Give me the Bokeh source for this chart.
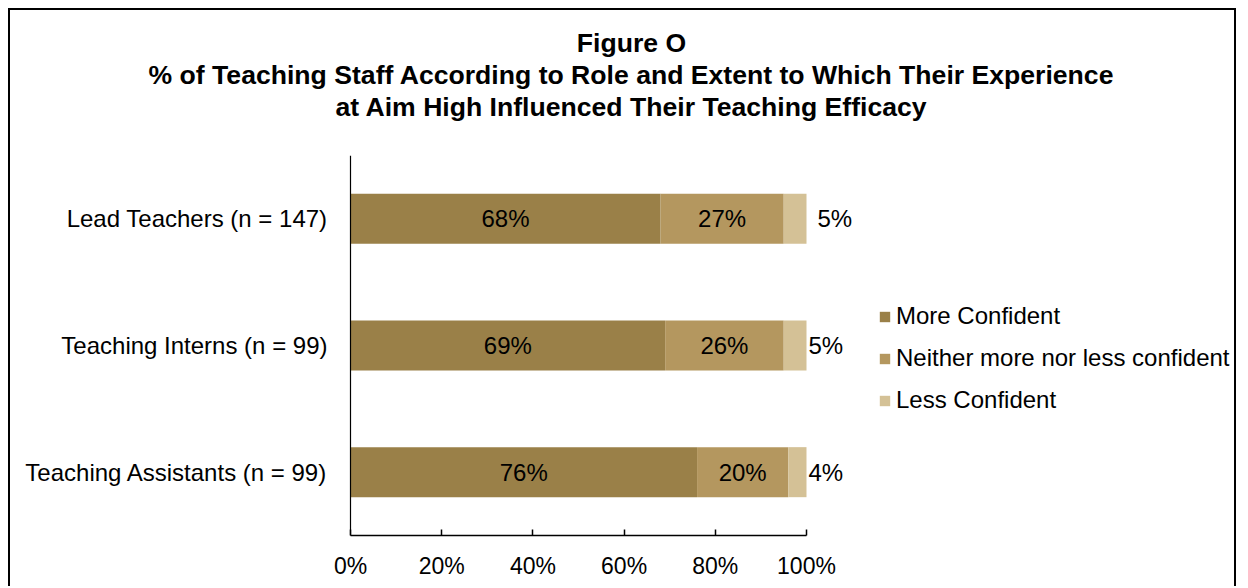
from bokeh.plotting import figure
from bokeh.models import FactorRange, Range1d, Title, Legend, LegendItem, FixedTicker, ColumnDataSource, Span
from bokeh.embed import file_html
from bokeh.resources import INLINE
from bokeh.core.properties import value

# ---------------- data ----------------
categories = ["Lead Teachers (n = 147)", "Teaching Interns (n = 99)", "Teaching Assistants (n = 99)"]
series = ["More Confident", "Neither more nor less confident", "Less Confident"]
more_confident = [68, 69, 76]
neither = [27, 26, 20]
less_confident = [5, 5, 4]
x_ticks = [0, 20, 40, 60, 80, 100]
x_tick_labels = ["0%", "20%", "40%", "60%", "80%", "100%"]
title_lines = [
    "Figure O",
    "% of Teaching Staff According to Role and Extent to Which Their Experience",
    "at Aim High Influenced Their Teaching Efficacy",
]

# ---------------- styles ----------------
colors = ["#9A8048", "#B4975F", "#D4C196"]
FONT = "Liberation Sans"
FS = "24px"
FS_TICK = "23px"
FS_TITLE = "26.6px"
W, H = 1228, 578                      # canvas (inside a 2px border, 8px page margin)
OX = 10                               # canvas origin on the page
FRAME_LEFT, FRAME_RIGHT = 14, 1228    # canvas px (frame centred on the title)
FRAME_TOP, FRAME_BOTTOM = 145, 525
AXIS_X_PAGE = 350                     # page x of the 0% position
PX_PER_PCT = 4.56
outside_offsets = [11, 2, 2]          # px offset of the outside labels per row
TITLE_GAP = 31                        # px between the last title line and the plot area

x_start = -((AXIS_X_PAGE - OX) - FRAME_LEFT) / PX_PER_PCT
x_end = (FRAME_RIGHT - (AXIS_X_PAGE - OX)) / PX_PER_PCT

p = figure(
    width=W, height=H,
    y_range=FactorRange(factors=list(reversed(categories))),
    x_range=Range1d(x_start, x_end),
    output_backend="svg", toolbar_location=None,
    min_border_left=FRAME_LEFT, min_border_right=W - FRAME_RIGHT,
    min_border_top=FRAME_TOP, min_border_bottom=H - FRAME_BOTTOM,
)
p.styles = {
    "margin-left": "8px", "margin-top": "8px",
    "border-left": "2px solid black", "border-top": "2px solid black",
    "border-right": "2px solid black",
}
p.grid.visible = False
p.outline_line_color = None
p.background_fill_color = "white"
p.border_fill_color = "white"
p.yaxis.visible = False

src = ColumnDataSource(dict(
    cat=categories,
    more=more_confident,
    neither=neither,
    less=less_confident,
))
keys = ["more", "neither", "less"]
renderers = p.hbar_stack(keys, y="cat", height=0.395, color=colors, source=src, line_color=None)

# value axis line (vertical, at 0%)
p.add_layout(Span(location=0, dimension="height", line_color="black", line_width=1.2))

# category labels
p.text(x=[0] * len(categories), y=categories, text=categories, x_offset=-23,
       text_align="right", text_baseline="middle",
       text_font=value(FONT), text_font_size=FS, text_color="black")

# in-bar labels
lbl_x, lbl_y, lbl_t = [], [], []
for i, c in enumerate(categories):
    lbl_x += [more_confident[i] / 2, more_confident[i] + neither[i] / 2]
    lbl_y += [c, c]
    lbl_t += [f"{more_confident[i]}%", f"{neither[i]}%"]
p.text(x=lbl_x, y=lbl_y, text=lbl_t, text_align="center", text_baseline="middle",
       text_font=value(FONT), text_font_size=FS, text_color="black")

# outside labels (Less Confident)
out_x = [more_confident[i] + neither[i] + less_confident[i] for i in range(3)]
p.text(x=out_x, y=categories, text=[f"{v}%" for v in less_confident],
       x_offset=outside_offsets, text_align="left", text_baseline="middle",
       text_font=value(FONT), text_font_size=FS, text_color="black")

# x axis
xa = p.xaxis[0]
xa.ticker = FixedTicker(ticks=x_ticks)
xa.major_label_overrides = {t: l for t, l in zip(x_ticks, x_tick_labels)}
xa.bounds = (0, 100)
xa.major_tick_in = 6
xa.major_tick_out = 0
xa.minor_tick_line_color = None
xa.axis_line_width = 1.5
xa.major_tick_line_width = 1.5
xa.axis_line_color = "black"
xa.major_tick_line_color = "black"
xa.major_label_text_font = FONT
xa.major_label_text_font_size = FS_TICK
xa.major_label_text_color = "black"
xa.major_label_standoff = 17

# legend
legend = Legend(
    items=[LegendItem(label=s, renderers=[r]) for s, r in zip(series, renderers)],
    location=(878 - OX - FRAME_LEFT, 121), orientation="vertical",
    border_line_color=None, background_fill_alpha=0,
    padding=0, margin=0, spacing=14,
    glyph_width=13, glyph_height=13, label_height=20, label_standoff=5,
    label_text_font=FONT, label_text_font_size=FS, label_text_color="black",
)
p.add_layout(legend, "center")

# title: spacer nearest the frame, then the three lines (each centred)
p.add_layout(Title(text=" ", align="center", standoff=TITLE_GAP, text_font_size="1px"), "above")
for t in reversed(title_lines):
    p.add_layout(Title(text=t, align="center", standoff=0,
                       text_font=FONT, text_font_size=FS_TITLE,
                       text_font_style="bold", text_color="black"), "above")

open("out.html", "w").write(file_html(p, INLINE))
